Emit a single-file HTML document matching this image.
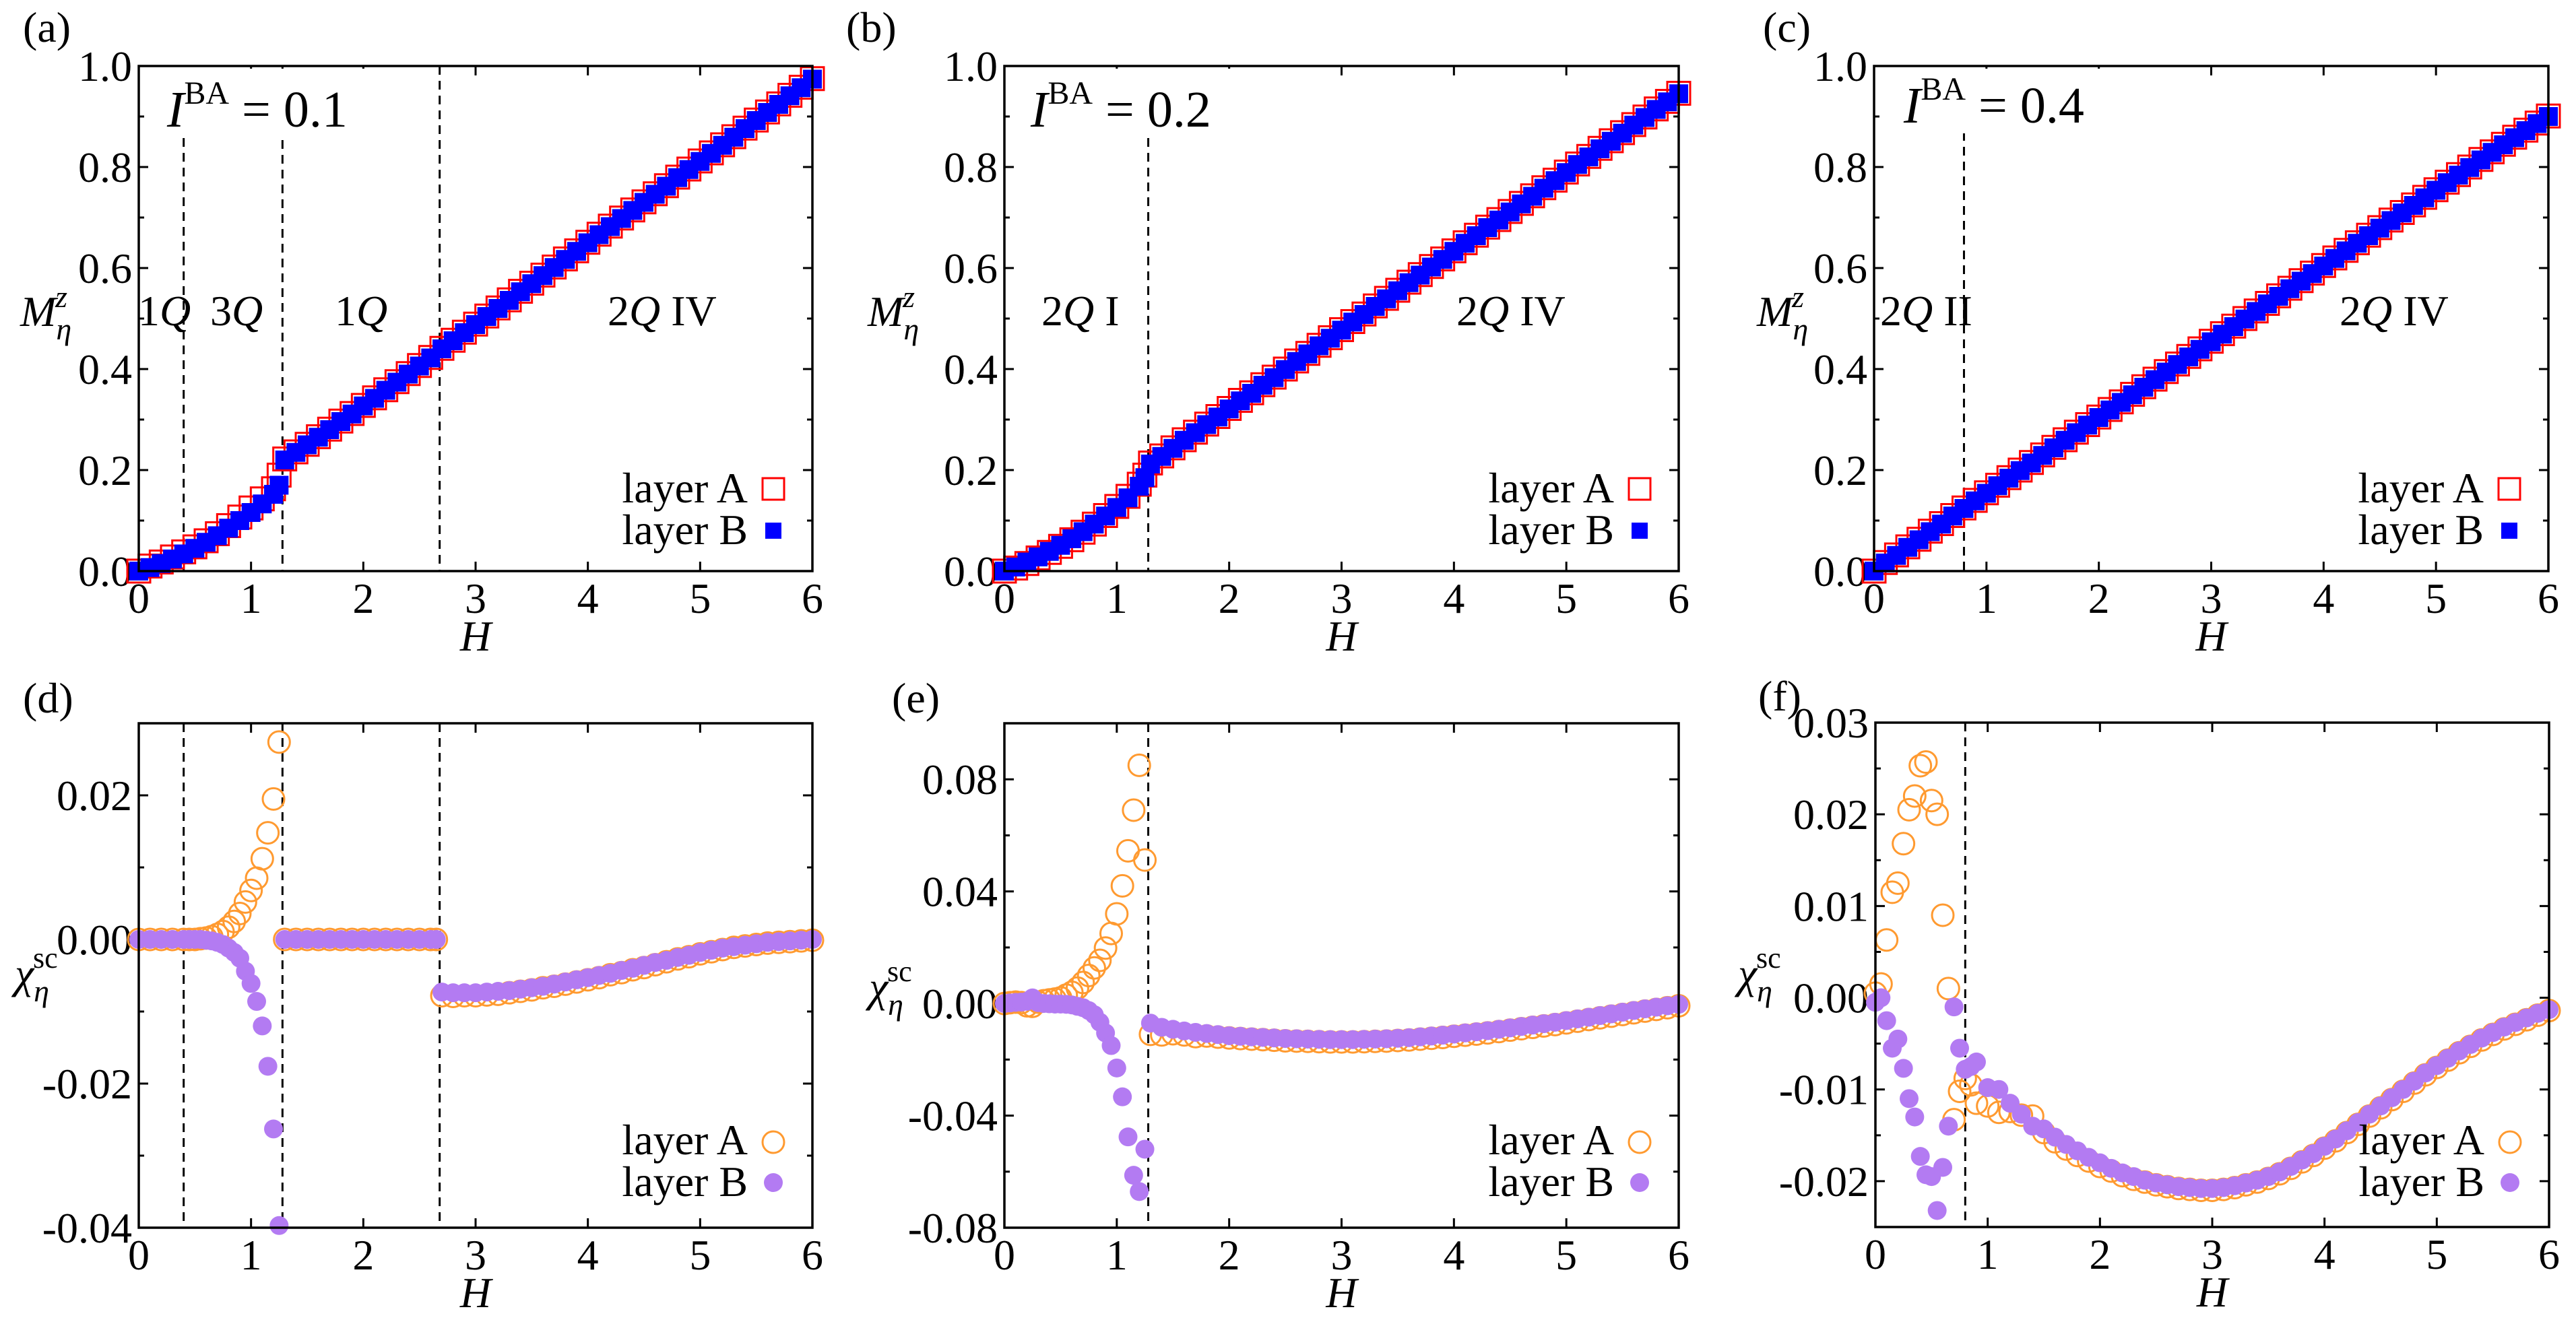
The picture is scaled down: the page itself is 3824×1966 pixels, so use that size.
<!DOCTYPE html>
<html><head><meta charset="utf-8"><style>
html,body{margin:0;padding:0;background:#fff;}
svg, svg text{font-family:"Liberation Serif","Times New Roman",serif;}
</style></head><body>
<svg id="fig" width="3824" height="1961" viewBox="0 0 3824 1961" font-family="Liberation Serif, serif" xmlns="http://www.w3.org/2000/svg">
<rect width="3824" height="1961" fill="#fff"/>
</svg>
<script>
// ---------- data ----------
const hTopAB = [0,0.1,0.2,0.3,0.4,0.5,0.6,0.7,0.8,0.9,1.0,1.1,1.2,1.25,1.3,1.4,1.5,1.6,1.7,1.8,1.9,2.0,2.1,2.2,2.3,2.4,2.5,2.6,2.7,2.8,2.9,3.0,3.1,3.2,3.3,3.4,3.5,3.6,3.7,3.8,3.9,4.0,4.1,4.2,4.3,4.4,4.5,4.6,4.7,4.8,4.9,5.0,5.1,5.2,5.3,5.4,5.5,5.6,5.7,5.8,5.9,6.0];
const mA_layerB = [0,0.007,0.015,0.024,0.034,0.045,0.057,0.070,0.085,0.100,0.116,0.133,0.152,0.170,0.220,0.235,0.250,0.265,0.280,0.296,0.311,0.327,0.342,0.358,0.374,0.390,0.406,0.422,0.440,0.456,0.472,0.488,0.504,0.520,0.536,0.553,0.569,0.585,0.601,0.617,0.633,0.650,0.666,0.682,0.698,0.714,0.730,0.746,0.762,0.779,0.795,0.811,0.827,0.843,0.859,0.876,0.892,0.908,0.924,0.941,0.957,0.974];
const mA_layerA = [0,0.010,0.018,0.028,0.038,0.048,0.060,0.074,0.090,0.107,0.125,0.143,0.163,0.190,0.222,0.236,0.251,0.266,0.281,0.297,0.312,0.328,0.343,0.359,0.375,0.391,0.407,0.423,0.441,0.457,0.473,0.489,0.505,0.521,0.537,0.554,0.570,0.586,0.602,0.618,0.634,0.651,0.667,0.683,0.699,0.715,0.731,0.747,0.763,0.780,0.796,0.812,0.828,0.844,0.860,0.877,0.893,0.909,0.925,0.942,0.958,0.975];
const mB_layerB = [0,0.008,0.018,0.028,0.039,0.051,0.064,0.078,0.093,0.109,0.126,0.145,0.168,0.185,0.212,0.227,0.243,0.259,0.274,0.290,0.305,0.321,0.337,0.352,0.368,0.383,0.399,0.415,0.430,0.446,0.461,0.477,0.493,0.508,0.524,0.539,0.555,0.571,0.586,0.602,0.617,0.633,0.649,0.664,0.680,0.695,0.711,0.727,0.742,0.758,0.773,0.789,0.805,0.820,0.836,0.851,0.867,0.883,0.898,0.914,0.929,0.945];
const mB_layerA = [0,0.006,0.015,0.026,0.037,0.049,0.062,0.077,0.093,0.110,0.128,0.148,0.172,0.190,0.214,0.228,0.244,0.260,0.275,0.291,0.306,0.322,0.338,0.353,0.369,0.384,0.400,0.416,0.431,0.447,0.462,0.478,0.494,0.509,0.525,0.540,0.556,0.572,0.587,0.603,0.618,0.634,0.650,0.665,0.681,0.696,0.712,0.728,0.743,0.759,0.774,0.790,0.806,0.821,0.837,0.852,0.868,0.884,0.899,0.915,0.930,0.946];
const hTopC = [0,0.1,0.2,0.3,0.4,0.5,0.6,0.7,0.8,0.9,1.0,1.1,1.2,1.3,1.4,1.5,1.6,1.7,1.8,1.9,2.0,2.1,2.2,2.3,2.4,2.5,2.6,2.7,2.8,2.9,3.0,3.1,3.2,3.3,3.4,3.5,3.6,3.7,3.8,3.9,4.0,4.1,4.2,4.3,4.4,4.5,4.6,4.7,4.8,4.9,5.0,5.1,5.2,5.3,5.4,5.5,5.6,5.7,5.8,5.9,6.0];
const mC_layerB = [0,0.016,0.031,0.047,0.062,0.078,0.093,0.109,0.124,0.139,0.154,0.169,0.184,0.199,0.214,0.229,0.244,0.259,0.274,0.289,0.304,0.319,0.334,0.349,0.364,0.379,0.394,0.409,0.424,0.439,0.454,0.469,0.484,0.499,0.514,0.529,0.544,0.559,0.574,0.589,0.604,0.619,0.634,0.649,0.664,0.679,0.694,0.709,0.724,0.739,0.754,0.769,0.784,0.799,0.814,0.829,0.844,0.858,0.872,0.886,0.900];
const mC_layerA = [0,0.017,0.032,0.048,0.063,0.079,0.094,0.110,0.125,0.140,0.155,0.170,0.185,0.200,0.215,0.230,0.245,0.260,0.275,0.290,0.305,0.320,0.335,0.350,0.365,0.380,0.395,0.410,0.425,0.440,0.455,0.470,0.485,0.500,0.515,0.530,0.545,0.560,0.575,0.590,0.605,0.620,0.635,0.650,0.665,0.680,0.695,0.710,0.725,0.740,0.755,0.770,0.785,0.800,0.815,0.830,0.845,0.859,0.873,0.887,0.901];

const hD = [0,0.1,0.2,0.3,0.4,0.45,0.5,0.55,0.6,0.65,0.7,0.75,0.8,0.85,0.9,0.95,1.0,1.05,1.1,1.15,1.2,1.25,1.3,1.4,1.5,1.6,1.7,1.8,1.9,2.0,2.1,2.2,2.3,2.4,2.5,2.6,2.65,2.7,2.8,2.9,3.0,3.1,3.2,3.3,3.4,3.5,3.6,3.7,3.8,3.9,4.0,4.1,4.2,4.3,4.4,4.5,4.6,4.7,4.8,4.9,5.0,5.1,5.2,5.3,5.4,5.5,5.6,5.7,5.8,5.9,6.0];
const chiD_layerA = [0,0,0,0,0,0,0,0.0001,0.0002,0.0004,0.0007,0.0011,0.0017,0.0025,0.0036,0.0052,0.0068,0.0085,0.0112,0.0148,0.0195,0.0274,0,0,0,0,0,0,0,0,0,0,0,0,0,0,0,-0.0078,-0.0079,-0.0078,-0.0078,-0.0077,-0.0076,-0.0074,-0.0072,-0.0070,-0.0067,-0.0065,-0.0062,-0.0059,-0.0056,-0.0053,-0.0049,-0.0046,-0.0042,-0.0039,-0.0035,-0.0031,-0.0027,-0.0024,-0.0020,-0.0017,-0.0014,-0.0011,-0.0009,-0.0007,-0.0005,-0.0004,-0.0003,-0.0002,-0.0001];
const chiD_layerB = [0,0,0,0,0,0,0,0,-0.0001,-0.0002,-0.0004,-0.0007,-0.0012,-0.0018,-0.0026,-0.0044,-0.0061,-0.0086,-0.0120,-0.0176,-0.0263,-0.0397,0,0,0,0,0,0,0,0,0,0,0,0,0,0,0,-0.0073,-0.0074,-0.0074,-0.0074,-0.0073,-0.0072,-0.0071,-0.0069,-0.0067,-0.0065,-0.0062,-0.0059,-0.0056,-0.0053,-0.0050,-0.0047,-0.0043,-0.0040,-0.0036,-0.0032,-0.0029,-0.0025,-0.0022,-0.0018,-0.0015,-0.0012,-0.0010,-0.0008,-0.0006,-0.0004,-0.0003,-0.0002,-0.0001,0];

const hE = [0,0.05,0.1,0.15,0.2,0.25,0.3,0.35,0.4,0.45,0.5,0.55,0.6,0.65,0.7,0.75,0.8,0.85,0.9,0.95,1.0,1.05,1.1,1.15,1.2,1.25,1.3,1.4,1.5,1.6,1.7,1.8,1.9,2.0,2.1,2.2,2.3,2.4,2.5,2.6,2.7,2.8,2.9,3.0,3.1,3.2,3.3,3.4,3.5,3.6,3.7,3.8,3.9,4.0,4.1,4.2,4.3,4.4,4.5,4.6,4.7,4.8,4.9,5.0,5.1,5.2,5.3,5.4,5.5,5.6,5.7,5.8,5.9,6.0];
const chiE_layerA = [0,0.0003,0.0005,0.0003,-0.0008,-0.0010,0.0005,0.0010,0.0013,0.0016,0.0020,0.0030,0.0040,0.0055,0.0075,0.0100,0.0127,0.0154,0.0198,0.0250,0.0320,0.0420,0.0545,0.0690,0.0850,0.0512,-0.0110,-0.0112,-0.0108,-0.0112,-0.0118,-0.0116,-0.0120,-0.0123,-0.0125,-0.0127,-0.0129,-0.0131,-0.0133,-0.0134,-0.0135,-0.0136,-0.0137,-0.0137,-0.0137,-0.0136,-0.0135,-0.0134,-0.0132,-0.0130,-0.0127,-0.0124,-0.0121,-0.0117,-0.0113,-0.0109,-0.0105,-0.0100,-0.0095,-0.0090,-0.0085,-0.0080,-0.0075,-0.0069,-0.0063,-0.0057,-0.0051,-0.0045,-0.0039,-0.0033,-0.0027,-0.0021,-0.0015,-0.0008];
const chiE_layerB = [0,0.0002,0.0004,0.0005,0.0008,0.0020,0.0003,0,-0.0001,-0.0002,-0.0002,-0.0003,-0.0005,-0.0010,-0.0015,-0.0025,-0.0040,-0.0067,-0.0105,-0.0150,-0.0230,-0.0333,-0.0476,-0.0613,-0.0671,-0.0520,-0.0070,-0.0085,-0.0092,-0.0098,-0.0103,-0.0107,-0.0111,-0.0115,-0.0117,-0.0119,-0.0121,-0.0123,-0.0125,-0.0126,-0.0127,-0.0128,-0.0129,-0.0129,-0.0129,-0.0128,-0.0127,-0.0126,-0.0124,-0.0122,-0.0119,-0.0116,-0.0113,-0.0109,-0.0105,-0.0101,-0.0097,-0.0092,-0.0087,-0.0082,-0.0077,-0.0072,-0.0067,-0.0061,-0.0055,-0.0049,-0.0043,-0.0037,-0.0031,-0.0025,-0.0019,-0.0013,-0.0008,-0.0003];

const hF = [0,0.05,0.1,0.15,0.2,0.25,0.3,0.35,0.4,0.45,0.5,0.55,0.6,0.65,0.7,0.75,0.8,0.85,0.9,1.0,1.1,1.2,1.3,1.4,1.5,1.6,1.7,1.8,1.9,2.0,2.1,2.2,2.3,2.4,2.5,2.6,2.7,2.8,2.9,3.0,3.1,3.2,3.3,3.4,3.5,3.6,3.7,3.8,3.9,4.0,4.1,4.2,4.3,4.4,4.5,4.6,4.7,4.8,4.9,5.0,5.1,5.2,5.3,5.4,5.5,5.6,5.7,5.8,5.9,6.0];
const chiF_layerA = [0.0005,0.0015,0.0063,0.0115,0.0125,0.0168,0.0205,0.0220,0.0253,0.0257,0.0215,0.0200,0.0090,0.0010,-0.0133,-0.0102,-0.0088,-0.0095,-0.0115,-0.0118,-0.0125,-0.0124,-0.0128,-0.0129,-0.0147,-0.0157,-0.0165,-0.0172,-0.0178,-0.0184,-0.0189,-0.0194,-0.0198,-0.0201,-0.0204,-0.0206,-0.0208,-0.0209,-0.0210,-0.0210,-0.0209,-0.0207,-0.0204,-0.0201,-0.0197,-0.0192,-0.0186,-0.0179,-0.0172,-0.0164,-0.0156,-0.0147,-0.0138,-0.0129,-0.0120,-0.0111,-0.0102,-0.0093,-0.0084,-0.0076,-0.0068,-0.0060,-0.0053,-0.0046,-0.0040,-0.0034,-0.0029,-0.0024,-0.0019,-0.0014];
const chiF_layerB = [-0.0005,0.0000,-0.0025,-0.0055,-0.0045,-0.0077,-0.0110,-0.0130,-0.0173,-0.0193,-0.0195,-0.0232,-0.0185,-0.0140,-0.0010,-0.0055,-0.0078,-0.0075,-0.0070,-0.0098,-0.0100,-0.0115,-0.0127,-0.0140,-0.0143,-0.0152,-0.0160,-0.0167,-0.0174,-0.0180,-0.0186,-0.0191,-0.0195,-0.0199,-0.0202,-0.0204,-0.0206,-0.0207,-0.0208,-0.0208,-0.0207,-0.0205,-0.0202,-0.0199,-0.0195,-0.0190,-0.0184,-0.0177,-0.0170,-0.0162,-0.0154,-0.0145,-0.0136,-0.0127,-0.0118,-0.0109,-0.0100,-0.0091,-0.0082,-0.0074,-0.0066,-0.0058,-0.0051,-0.0044,-0.0038,-0.0032,-0.0027,-0.0022,-0.0017,-0.0013];

const xTicks = [0,1,2,3,4,5,6];
const yTicksTop = [0,0.2,0.4,0.6,0.8,1.0];
const yTickLabelsTop = ["0.0","0.2","0.4","0.6","0.8","1.0"];
const yTicksD = [-0.04,-0.02,0,0.02];
const yTickLabelsD = ["-0.04","-0.02","0.00","0.02"];
const yTicksE = [-0.08,-0.04,0,0.04,0.08];
const yTickLabelsE = ["-0.08","-0.04","0.00","0.04","0.08"];
const yTicksF = [-0.02,-0.01,0,0.01,0.02,0.03];
const yTickLabelsF = ["-0.02","-0.01","0.00","0.01","0.02","0.03"];

// ---------- drawing ----------
const NS = "http://www.w3.org/2000/svg";
const FONT = '"Liberation Serif", "Times New Roman", serif';
const FS = 64;
const svg = document.getElementById('fig');
function mk(tag, attrs, parent){
  const e = document.createElementNS(NS, tag);
  for (const k in attrs) e.setAttribute(k, attrs[k]);
  (parent || svg).appendChild(e);
  return e;
}
function txt(parent, x, y, s, size, anchor, style){
  const t = mk('text', {x:x, y:y, 'font-size':size, 'text-anchor':anchor||'start', fill:'#000'}, parent);
  t.style.fontFamily = FONT;
  if (style) t.setAttribute('font-style', style);
  t.textContent = s;
  return t;
}

function makePanel(p){
  const g = mk('g', {});
  
  
  const sx = v => p.x0 + (v - 0) / 6 * (p.x1 - p.x0);
  const sy = v => p.y1 - (v - p.ymin) / (p.ymax - p.ymin) * (p.y1 - p.y0);
  p.sx = sx; p.sy = sy; p.g = g;
  const tg = mk('g', {stroke:'#000','stroke-width':3}, g);
  
  
  const tf = mk('g', {}, g);
  xTicks.forEach(v => {
    const x = sx(v);
    mk('line', {x1:x, y1:p.y1, x2:x, y2:p.y1-14}, tg);
    mk('line', {x1:x, y1:p.y0, x2:x, y2:p.y0+14}, tg);
    const t = txt(tf, x, p.y1 + 62, String(v), FS, 'middle');
    
    
  });
  p.yMinor.forEach(v => {
    const y = sy(v);
    mk('line', {x1:p.x0, y1:y, x2:p.x0+8, y2:y}, tg);
    mk('line', {x1:p.x1, y1:y, x2:p.x1-8, y2:y}, tg);
  });
  p.yTicks.forEach((v, i) => {
    const y = sy(v);
    mk('line', {x1:p.x0, y1:y, x2:p.x0+14, y2:y}, tg);
    mk('line', {x1:p.x1, y1:y, x2:p.x1-14, y2:y}, tg);
    const t = txt(tf, p.x0 - 10, y + 22, p.yLabels[i], FS, 'end');
    
    
  });
  p.dashes.forEach(d => {
    const l = mk('line', {x1:sx(d.h), x2:sx(d.h), y1:d.top !== undefined ? d.top : p.y0, y2:p.y1, stroke:'#000','stroke-width':3,'stroke-dasharray':'13,9'}, g);
    
    
  });
  p.series.forEach(s => {
    const sg = mk('g', {}, g);
    
    
    s.h.forEach((hv, i) => {
      const cx = sx(hv), cy = sy(s.v[i]);
      let m;
      if (s.kind === 'sqOpen') m = mk('rect', {x:cx-17, y:cy-17, width:34, height:34, fill:'none', stroke:'#ff0000','stroke-width':3}, sg);
      else if (s.kind === 'sqFill') m = mk('rect', {x:cx-14, y:cy-14, width:28, height:28, fill:'#0000ff'}, sg);
      else if (s.kind === 'cOpen') m = mk('circle', {cx:cx, cy:cy, r:16, fill:'none', stroke:'#ff9a30','stroke-width':3}, sg);
      else m = mk('circle', {cx:cx, cy:cy, r:14, fill:'#b37bf2'}, sg);
      
      
    });
  });
  p.annotLayer = mk('g', {}, g);
  const fr = mk('rect', {x:p.x0, y:p.y0, width:p.x1-p.x0, height:p.y1-p.y0, fill:'none', stroke:'#000','stroke-width':3.5}, g);
  
  
  const xt = txt(g, (p.x0+p.x1)/2, p.y1 + 118, 'H', FS, 'middle', 'italic');
  
  
  const yt = mk('text', {x:p.yLabX, y:p.yLabY, 'font-size':FS}, g);
  yt.style.fontFamily = FONT;
  
  
  if (p.top) {
    yt.innerHTML = '<tspan font-style="italic">M</tspan><tspan font-style="italic" font-size="46" dy="20">η</tspan><tspan font-style="italic" font-size="46" dx="-24" dy="-48">z</tspan>';
  } else {
    yt.innerHTML = '<tspan font-style="italic">χ</tspan><tspan font-style="italic" font-size="46" dy="20">η</tspan><tspan font-size="44" dx="-24" dy="-50">sc</tspan>';
  }
  const pl = txt(g, p.plX, p.plY, p.label, FS, 'start');
  
  
  const lg = mk('g', {}, g);
  
  
  const lx = p.x1 - 96, mx = p.x1 - 58;
  const lA = txt(lg, lx, p.legY, 'layer A', FS, 'end');
  
  
  const lB = txt(lg, lx, p.legY + 62, 'layer B', FS, 'end');
  
  
  if (p.top) {
    mk('rect', {x:mx-16, y:p.legY-36, width:32, height:32, fill:'none', stroke:'#ff0000','stroke-width':3}, lg);
    mk('rect', {x:mx-12, y:p.legY+62-32, width:24, height:24, fill:'#0000ff'}, lg);
  } else {
    mk('circle', {cx:mx, cy:p.legY-18, r:16, fill:'none', stroke:'#ff9a30','stroke-width':3}, lg);
    mk('circle', {cx:mx, cy:p.legY+62-20, r:14, fill:'#b37bf2'}, lg);
  }
  return p;
}
function annot(p, x, y, html, name, size){
  const t = mk('text', {x:x, y:y, 'font-size':size || FS}, p.annotLayer);
  t.style.fontFamily = FONT;
  
  
  t.innerHTML = html;
  return t;
}
function iba(p, x, y, val){
  const top = p.y0 + 4;
  mk('rect', {x:x-6, y:top, width:330, height:y + 16 - top, fill:'#fff'}, p.annotLayer);
  annot(p, x, y, '<tspan font-style="italic">I</tspan><tspan font-size="48" dy="-34">BA</tspan><tspan dy="34"> = ' + val + '</tspan>', 'coupling-label', 76);
}
const Q = '<tspan font-style="italic">Q</tspan>';

const topMinor = [0.1,0.3,0.5,0.7,0.9];
const pa = makePanel({name:'panel-a', label:'(a)', top:true, x0:206, x1:1206, y0:98, y1:848, ymin:0, ymax:1,
  yTicks:yTicksTop, yLabels:yTickLabelsTop, yMinor:topMinor, plX:34, plY:62, yLabX:30, yLabY:484, legY:746,
  dashes:[{h:0.4, top:205},{h:1.28},{h:2.68}],
  series:[{name:'series-layer-a', kind:'sqOpen', h:hTopAB, v:mA_layerA},{name:'series-layer-b', kind:'sqFill', h:hTopAB, v:mA_layerB}]});
iba(pa, 248, 188, '0.1');
annot(pa, 205, 483, '1'+Q, 'phase-label');
annot(pa, 312, 483, '3'+Q, 'phase-label');
annot(pa, 497, 483, '1'+Q, 'phase-label');
annot(pa, 902, 483, '2'+Q+' IV', 'phase-label');

const pb = makePanel({name:'panel-b', label:'(b)', top:true, x0:1491, x1:2492, y0:98, y1:848, ymin:0, ymax:1,
  yTicks:yTicksTop, yLabels:yTickLabelsTop, yMinor:topMinor, plX:1256, plY:62, yLabX:1288, yLabY:484, legY:746,
  dashes:[{h:1.28, top:205}],
  series:[{name:'series-layer-a', kind:'sqOpen', h:hTopAB, v:mB_layerA},{name:'series-layer-b', kind:'sqFill', h:hTopAB, v:mB_layerB}]});
iba(pb, 1530, 188, '0.2');
annot(pb, 1546, 483, '2'+Q+' I', 'phase-label');
annot(pb, 2162, 483, '2'+Q+' IV', 'phase-label');

const pc = makePanel({name:'panel-c', label:'(c)', top:true, x0:2782, x1:3783, y0:98, y1:848, ymin:0, ymax:1,
  yTicks:yTicksTop, yLabels:yTickLabelsTop, yMinor:topMinor, plX:2617, plY:62, yLabX:2608, yLabY:484, legY:746,
  dashes:[{h:0.8, top:196}],
  series:[{name:'series-layer-a', kind:'sqOpen', h:hTopC, v:mC_layerA},{name:'series-layer-b', kind:'sqFill', h:hTopC, v:mC_layerB}]});
iba(pc, 2826, 182, '0.4');
annot(pc, 2791, 483, '2'+Q+' II', 'phase-label');
annot(pc, 3473, 483, '2'+Q+' IV', 'phase-label');

makePanel({name:'panel-d', label:'(d)', top:false, x0:206, x1:1206, y0:1074, y1:1823, ymin:-0.04, ymax:0.03,
  yTicks:yTicksD, yLabels:yTickLabelsD, yMinor:[-0.03,-0.01,0.01], plX:34, plY:1058, yLabX:22, yLabY:1467, legY:1714,
  dashes:[{h:0.4},{h:1.28},{h:2.68}],
  series:[{name:'series-layer-a', kind:'cOpen', h:hD, v:chiD_layerA},{name:'series-layer-b', kind:'cFill', h:hD, v:chiD_layerB}]});

makePanel({name:'panel-e', label:'(e)', top:false, x0:1491, x1:2492, y0:1074, y1:1823, ymin:-0.08, ymax:0.10,
  yTicks:yTicksE, yLabels:yTickLabelsE, yMinor:[-0.06,-0.02,0.02,0.06], plX:1324, plY:1058, yLabX:1290, yLabY:1487, legY:1714,
  dashes:[{h:1.28}],
  series:[{name:'series-layer-a', kind:'cOpen', h:hE, v:chiE_layerA},{name:'series-layer-b', kind:'cFill', h:hE, v:chiE_layerB}]});

makePanel({name:'panel-f', label:'(f)', top:false, x0:2784, x1:3784, y0:1073, y1:1822, ymin:-0.025, ymax:0.03,
  yTicks:yTicksF, yLabels:yTickLabelsF, yMinor:[-0.015,-0.005,0.005,0.015,0.025], plX:2610, plY:1055, yLabX:2580, yLabY:1467, legY:1714,
  dashes:[{h:0.8}],
  series:[{name:'series-layer-a', kind:'cOpen', h:hF, v:chiF_layerA},{name:'series-layer-b', kind:'cFill', h:hF, v:chiF_layerB}]});
</script>
</body></html>
